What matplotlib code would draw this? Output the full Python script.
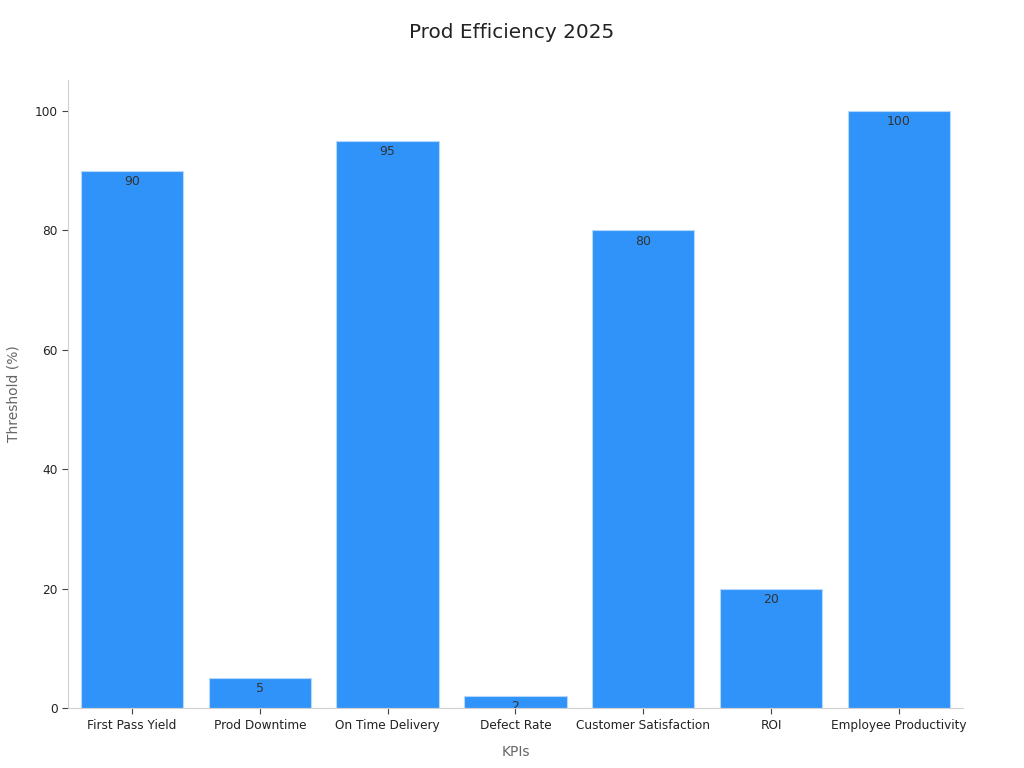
import matplotlib.pyplot as plt
import matplotlib.transforms as mtransforms

kpis = ['First Pass Yield', 'Prod Downtime', 'On Time Delivery', 'Defect Rate',
        'Customer Satisfaction', 'ROI', 'Employee Productivity']
thresholds = [90, 5, 95, 2, 80, 20, 100]

fig = plt.figure(figsize=(10.24, 7.68), dpi=100)
ax = fig.add_axes([0.0664, 0.078, 0.874, 0.818])

bars = ax.bar(range(len(kpis)), thresholds, width=0.8, color='#2f93f9',
              edgecolor='#b8d8fb', linewidth=0.8)

# labels sit just inside the top of each bar, clipped to the bar
offset = mtransforms.ScaledTranslation(0, -3 / 72, fig.dpi_scale_trans)
for b, v in zip(bars, thresholds):
    ax.text(b.get_x() + b.get_width() / 2, v, str(v), ha='center', va='top',
            fontsize=9, color='#333333', transform=ax.transData + offset,
            clip_on=True, clip_path=b)

ax.set_xlim(-0.5, 6.5)
ax.set_ylim(0, 105.2)
ax.set_xticks(range(len(kpis)))
ax.set_xticklabels(kpis)
ax.set_yticks([0, 20, 40, 60, 80, 100])
ax.tick_params(labelsize=8.7, colors='#222222', length=4, color='#444444')

for s in ['top', 'right']:
    ax.spines[s].set_visible(False)
for s in ['left', 'bottom']:
    ax.spines[s].set_color('#d0d0d0')

ax.set_xlabel('KPIs', fontsize=10, color='#666666', labelpad=10)
ax.set_ylabel('Threshold (%)', fontsize=10, color='#666666', labelpad=10)
fig.suptitle('Prod Efficiency 2025', fontsize=14.4, color='#222222', y=0.97)

fig.savefig('out.png', dpi=100)
